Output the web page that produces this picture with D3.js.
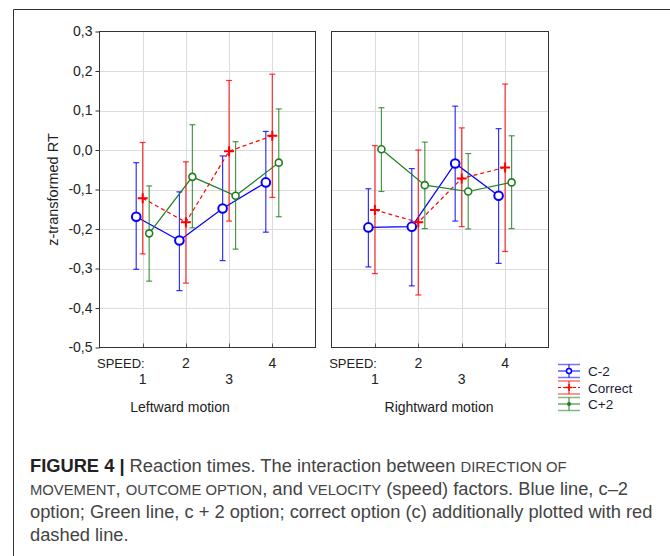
<!DOCTYPE html>
<html><head><meta charset="utf-8">
<script src="https://cdn.jsdelivr.net/npm/d3@7"></script>
<style>html,body{margin:0;padding:0;background:#fff;}svg{display:block;}</style>
</head><body>
<svg id="chart" width="670" height="556"></svg>
<script>
// ---- data ----
const speeds = [1, 2, 3, 4];
const yTicks = [-0.5, -0.4, -0.3, -0.2, -0.1, 0.0, 0.1, 0.2, 0.3];
const yTickLabels = ["-0,5", "-0,4", "-0,3", "-0,2", "-0,1", "0,0", "0,1", "0,2", "0,3"];
const seriesNames = ["C-2", "Correct", "C+2"];
const panelTitles = ["Leftward motion", "Rightward motion"];

// Leftward motion
const c2Left      = [-0.169, -0.229, -0.148, -0.082];
const c2LeftLo    = [-0.302, -0.356, -0.280, -0.208];
const c2LeftHi    = [-0.032, -0.106, -0.015,  0.047];
const corrLeft    = [-0.122, -0.183, -0.003,  0.036];
const corrLeftLo  = [-0.263, -0.337, -0.180, -0.120];
const corrLeftHi  = [ 0.019, -0.030,  0.176,  0.192];
const cp2Left     = [-0.211, -0.068, -0.116, -0.032];
const cp2LeftLo   = [-0.332, -0.197, -0.251, -0.169];
const cp2LeftHi   = [-0.091,  0.064,  0.021,  0.104];

// Rightward motion
const c2Right     = [-0.196, -0.194, -0.034, -0.116];
const c2RightLo   = [-0.296, -0.344, -0.180, -0.287];
const c2RightHi   = [-0.098, -0.047,  0.111,  0.054];
const corrRight   = [-0.152, -0.183, -0.072, -0.044];
const corrRightLo = [-0.313, -0.367, -0.194, -0.257];
const corrRightHi = [ 0.011,  0.000,  0.056,  0.167];
const cp2Right    = [ 0.002, -0.089, -0.105, -0.082];
const cp2RightLo  = [-0.105, -0.199, -0.200, -0.199];
const cp2RightHi  = [ 0.107,  0.020, -0.009,  0.036];

// ---- style ----
const colors = {"C-2": "#0000ff", "Correct": "#ff0000", "C+2": "#1e7f1e"};
const offsets = {"C-2": -0.15, "Correct": 0, "C+2": 0.15};
const FONT = "'Liberation Sans', Arial, sans-serif";

const svg = d3.select("#chart");

// outer frame
svg.append("path").attr("d", "M13.5,556 V9.5 H670").attr("fill", "none").attr("stroke", "#333").attr("stroke-width", 1);

const y = d3.scaleLinear().domain([-0.5, 0.3]).range([347.5, 31.5]);

const panels = [
  {title: panelTitles[0], range: [99.5, 315.5], titleX: 180, yAxis: true,
   data: {"C-2": [c2Left, c2LeftLo, c2LeftHi], "Correct": [corrLeft, corrLeftLo, corrLeftHi], "C+2": [cp2Left, cp2LeftLo, cp2LeftHi]}},
  {title: panelTitles[1], range: [331.5, 548.5], titleX: 439, yAxis: false,
   data: {"C-2": [c2Right, c2RightLo, c2RightHi], "Correct": [corrRight, corrRightLo, corrRightHi], "C+2": [cp2Right, cp2RightLo, cp2RightHi]}}
];

panels.forEach(p => {
  const x = d3.scaleLinear().domain([0, 5]).range(p.range);
  const g = svg.append("g");
  // grid
  g.selectAll(".hg").data(yTicks.slice(1, -1)).join("line")
    .attr("x1", p.range[0]).attr("x2", p.range[1])
    .attr("y1", d => Math.round(y(d)) + 0.5).attr("y2", d => Math.round(y(d)) + 0.5)
    .attr("stroke", "#dcdcdc").attr("stroke-width", 1);
  g.selectAll(".vg").data(speeds).join("line")
    .attr("x1", d => Math.round(x(d)) + 0.5).attr("x2", d => Math.round(x(d)) + 0.5)
    .attr("y1", y(0.3)).attr("y2", y(-0.5))
    .attr("stroke", "#dcdcdc").attr("stroke-width", 1);
  // bottom ticks (inside)
  g.selectAll(".bt").data(speeds).join("line")
    .attr("x1", d => Math.round(x(d)) + 0.5).attr("x2", d => Math.round(x(d)) + 0.5)
    .attr("y1", y(-0.5)).attr("y2", y(-0.5) - 4)
    .attr("stroke", "#555");
  // frame
  g.append("rect").attr("x", p.range[0]).attr("y", y(0.3))
    .attr("width", p.range[1] - p.range[0]).attr("height", y(-0.5) - y(0.3))
    .attr("fill", "none").attr("stroke", "#333").attr("stroke-width", 1);

  if (p.yAxis) {
    const ax = d3.axisLeft(y).tickValues(yTicks).tickSize(4).tickPadding(3)
      .tickFormat((d, i) => yTickLabels[i]);
    const axg = g.append("g").attr("transform", `translate(${p.range[0]},0)`).call(ax);
    axg.select(".domain").remove();
    axg.selectAll("line").attr("stroke", "#333");
    axg.selectAll("text").attr("font-family", FONT).attr("font-size", 14).attr("fill", "#222");
    svg.append("text").attr("transform", `translate(58,${(y(0.3) + y(-0.5)) / 2}) rotate(-90)`)
      .attr("text-anchor", "middle").attr("font-family", FONT).attr("font-size", 14.5)
      .attr("fill", "#222").text("z-transformed RT");
  }

  // x labels
  g.append("text").attr("x", x(1) + 2).attr("y", 368).attr("text-anchor", "end")
    .attr("font-family", FONT).attr("font-size", 13).attr("fill", "#222").text("SPEED:");
  g.selectAll(".xl").data(speeds).join("text")
    .attr("x", d => x(d)).attr("y", d => d % 2 === 0 ? 368 : 384)
    .attr("text-anchor", "middle").attr("font-family", FONT).attr("font-size", 14).attr("fill", "#222")
    .text(d => d);
  g.append("text").attr("x", p.titleX).attr("y", 412).attr("text-anchor", "middle")
    .attr("font-family", FONT).attr("font-size", 14).attr("fill", "#222").text(p.title);

  // series
  seriesNames.forEach(name => {
    const [mean, lo, hi] = p.data[name];
    const col = colors[name];
    const off = offsets[name];
    const pts = speeds.map((s, i) => ({x: x(s + off), m: mean[i], lo: lo[i], hi: hi[i]}));
    const sg = g.append("g");
    // error bars
    pts.forEach(d => {
      sg.append("line").attr("x1", d.x).attr("x2", d.x).attr("y1", y(d.lo)).attr("y2", y(d.hi))
        .attr("stroke", col).attr("stroke-width", 1.2).attr("stroke-opacity", 0.8);
      [d.lo, d.hi].forEach(v => sg.append("line").attr("x1", d.x - 3).attr("x2", d.x + 3)
        .attr("y1", y(v)).attr("y2", y(v)).attr("stroke", col).attr("stroke-width", 1.2).attr("stroke-opacity", 0.8));
    });
    // line
    sg.append("path").datum(pts)
      .attr("d", d3.line().x(d => d.x).y(d => y(d.m)))
      .attr("fill", "none").attr("stroke", col).attr("stroke-width", 1.2)
      .attr("stroke-dasharray", name === "Correct" ? "4,3" : null);
    // markers
    pts.forEach(d => {
      if (name === "C-2") {
        sg.append("circle").attr("cx", d.x).attr("cy", y(d.m)).attr("r", 4.3)
          .attr("fill", "#fff").attr("stroke", col).attr("stroke-width", 2);
      } else if (name === "Correct") {
        sg.append("path").attr("d", `M${d.x - 5},${y(d.m)}H${d.x + 5}M${d.x},${y(d.m) - 5}V${y(d.m) + 5}`)
          .attr("stroke", col).attr("stroke-width", 2);
      } else {
        sg.append("circle").attr("cx", d.x).attr("cy", y(d.m)).attr("r", 3.5)
          .attr("fill", "#fff").attr("stroke", col).attr("stroke-width", 1.6);
      }
    });
  });
});

// legend
const legY = [371, 387.5, 404];
seriesNames.forEach((name, i) => {
  const col = colors[name];
  const cy = legY[i];
  const lg = svg.append("g");
  const x0 = 558, x1 = 580, xm = 569;
  [cy - 6.5, cy + 6.5].forEach(v => lg.append("line").attr("x1", x0).attr("x2", x1).attr("y1", v).attr("y2", v)
    .attr("stroke", col).attr("stroke-opacity", 0.55).attr("stroke-width", 1.5));
  lg.append("line").attr("x1", xm).attr("x2", xm).attr("y1", cy - 6.5).attr("y2", cy + 6.5)
    .attr("stroke", col).attr("stroke-width", 1);
  lg.append("line").attr("x1", x0).attr("x2", x1).attr("y1", cy).attr("y2", cy)
    .attr("stroke", col).attr("stroke-width", 1).attr("stroke-dasharray", name === "Correct" ? "3,2" : null);
  if (name === "C-2") lg.append("circle").attr("cx", xm).attr("cy", cy).attr("r", 2.5).attr("fill", "#fff").attr("stroke", col).attr("stroke-width", 1.5);
  else if (name === "Correct") lg.append("path").attr("d", `M${xm - 3.5},${cy}H${xm + 3.5}M${xm},${cy - 3.5}V${cy + 3.5}`).attr("stroke", col).attr("stroke-width", 1.5);
  else lg.append("circle").attr("cx", xm).attr("cy", cy).attr("r", 2).attr("fill", col);
  lg.append("text").attr("x", 588).attr("y", cy + 5).attr("font-family", FONT).attr("font-size", 13.5)
    .attr("fill", "#1a1a3a").text(name);
});

// caption
const capLines = [
  [["FIGURE 4 | ", "b"], ["Reaction times. The interaction between ", "n"], ["DIRECTION OF", "s"]],
  [["MOVEMENT", "s"], [", ", "n"], ["OUTCOME OPTION", "s"], [", and ", "n"], ["VELOCITY", "s"], [" (speed) factors. Blue line, c–2", "n"]],
  [["option; Green line, c + 2 option; correct option (c) additionally plotted with red", "n"]],
  [["dashed line.", "n"]]
];
const capY = [472, 495, 518, 541];
capLines.forEach((parts, i) => {
  const t = svg.append("text").attr("x", 30).attr("y", capY[i]).attr("font-family", FONT)
    .attr("font-size", 18.3).attr("fill", "#444");
  parts.forEach(([txt, k]) => {
    const ts = t.append("tspan").text(txt);
    if (k === "b") ts.attr("font-weight", "bold").attr("fill", "#222");
    if (k === "s") ts.attr("font-size", 14.8);
  });
});
</script>
</body></html>
